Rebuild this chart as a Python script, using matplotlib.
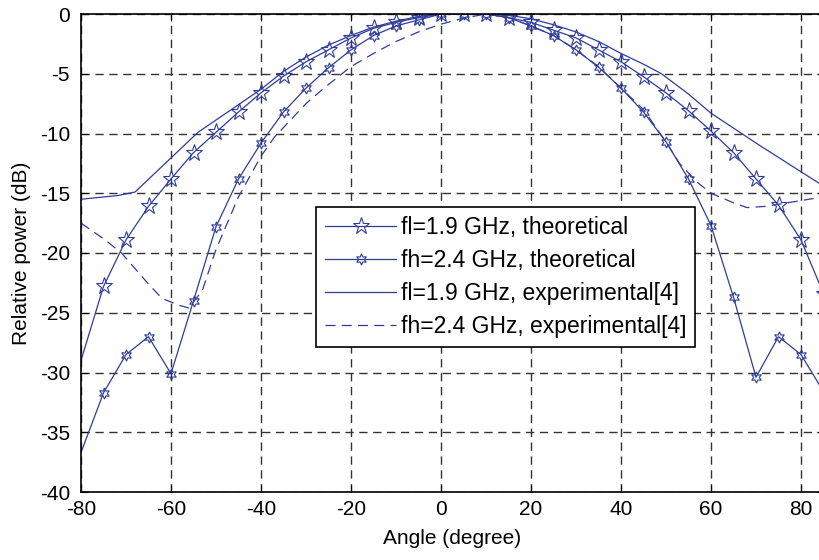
import matplotlib
matplotlib.use("Agg")
import matplotlib.pyplot as plt

# theoretical curves, every 5 degrees (no point at -80)
theo_angle = [-85, -75, -70, -65, -60, -55, -50, -45, -40, -35, -30, -25, -20, -15,
              -10, -5, 0, 5, 10, 15, 20, 25, 30, 35, 40, 45, 50, 55, 60, 65, 70,
              75, 80, 85]
fl_theo = [-35.2, -22.8, -18.9, -16.1, -13.8, -11.6, -9.9, -8.2, -6.6, -5.2, -4.0,
           -3.0, -2.0, -1.2, -0.7, -0.3, 0.0, 0.0, 0.0, -0.3, -0.7, -1.35, -2.0,
           -3.0, -4.0, -5.25, -6.6, -8.1, -9.8, -11.6, -13.8, -16.0, -18.9, -23.4]
fh_theo = [-41.7, -31.7, -28.5, -27.0, -30.1, -24.0, -17.8, -13.8, -10.8, -8.2,
           -6.2, -4.5, -3.0, -1.8, -1.0, -0.5, 0.0, 0.0, 0.0, -0.3, -1.0, -1.8,
           -3.0, -4.45, -6.2, -8.2, -10.7, -13.8, -17.7, -23.7, -30.4, -27.0,
           -28.5, -31.6]

# measured curves [4]
fl_exp_angle = [-80, -72, -68, -54, -40, -35, -30, -25, -20, -15, -10, -5, 0, 5,
                10, 15, 20, 25, 30, 35, 40, 45, 49, 55, 60, 70, 80, 85]
fl_exp = [-15.5, -15.2, -14.9, -9.9, -6.3, -4.8, -3.6, -2.6, -1.8, -1.1, -0.6,
          -0.2, 0.0, 0.0, 0.0, -0.1, -0.4, -0.9, -1.5, -2.3, -3.3, -4.2, -5.0,
          -6.7, -8.3, -10.8, -13.2, -14.4]

fh_exp_angle = [-80, -75, -71, -65, -62, -58, -56, -53, -50, -45, -40, -37, -30,
                -26, -22, -20, -15, -10, -5, 0, 5, 10, 15, 20, 25, 30, 35, 40,
                45, 50, 53, 57, 60, 65, 68, 72, 77, 85]
fh_exp = [-17.5, -18.8, -20.0, -22.6, -23.8, -24.4, -24.6, -23.1, -19.7, -15.3,
          -11.9, -10.3, -7.5, -6.2, -5.0, -4.4, -3.3, -2.3, -1.5, -0.85, -0.35,
          0.0, -0.3, -1.0, -1.8, -3.0, -4.4, -6.2, -8.0, -10.7, -12.5, -14.1,
          -15.0, -15.8, -16.2, -16.1, -15.8, -15.3]

xticks = [-80, -60, -40, -20, 0, 20, 40, 60, 80]
yticks = [0, -5, -10, -15, -20, -25, -30, -35, -40]

font = "Liberation Sans"
blue = "#2f3c9c"

fig = plt.figure(figsize=(8.19, 5.60), dpi=100)
ax = fig.add_axes([81 / 819, 68 / 560, 742.5 / 819, 478 / 560])

ax.plot(theo_angle, fl_theo, color=blue, lw=0.9, marker="*", ms=12.5,
        mfc="none", mec=blue, mew=0.8, label="fl=1.9 GHz, theoretical")
ax.plot(theo_angle, fh_theo, color=blue, lw=0.9, marker=(6, 1, 0), ms=8,
        mfc="none", mec=blue, mew=0.8, label="fh=2.4 GHz, theoretical")
ax.plot(fl_exp_angle, fl_exp, color=blue, lw=0.9,
        label="fl=1.9 GHz, experimental[4]")
ax.plot(fh_exp_angle, fh_exp, color=blue, lw=0.9, dashes=(8, 5),
        label="fh=2.4 GHz, experimental[4]")

ax.set_xlim(-80, 85)
ax.set_ylim(-40, 0)
ax.set_xticks(xticks)
ax.set_yticks(yticks)
ax.set_xticklabels([str(v) for v in xticks], fontfamily=font, fontsize=15)
ax.set_yticklabels([str(v) for v in yticks], fontfamily=font, fontsize=15)
ax.tick_params(axis="x", direction="in", length=5, top=True, pad=6)
ax.tick_params(axis="y", direction="in", length=5, right=True, pad=8)
ax.grid(True, color="#333333", lw=1.0, dashes=(6, 4))
for s in ax.spines.values():
    s.set_linewidth(1.2)

ax.set_xlabel("Angle (degree)", fontfamily=font, fontsize=15, labelpad=7)
ax.set_ylabel("Relative power (dB)", fontfamily=font, fontsize=15, labelpad=6)

leg = ax.legend(loc="upper left", bbox_to_anchor=(235 / 742.5, 1 - 193 / 478),
                prop={"family": font, "size": 16.5}, frameon=True,
                fancybox=False, edgecolor="black", framealpha=1,
                handlelength=3.1, handletextpad=0.2, labelspacing=0.43,
                borderpad=0.4, borderaxespad=0)
leg.get_frame().set_linewidth(1.2)

fig.savefig("out.png", dpi=100)
